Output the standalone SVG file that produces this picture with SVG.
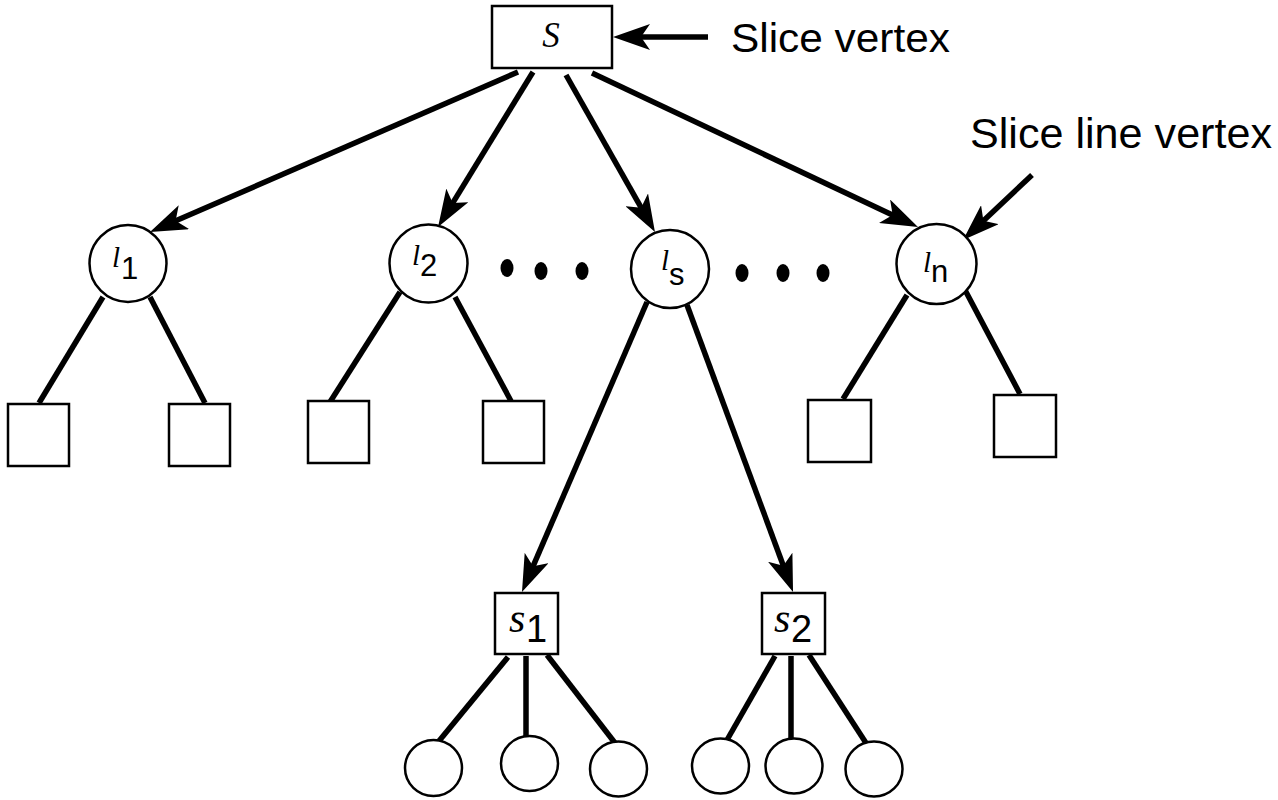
<svg xmlns="http://www.w3.org/2000/svg" width="1278" height="800" viewBox="0 0 1278 800">
<style>
.edge{stroke:#000;stroke-width:5.5;fill:none}
.arr{marker-end:url(#ah)}
.node{fill:#fff;stroke:#000;stroke-width:2.5}
.it{font-family:"Liberation Serif",serif;font-style:italic;fill:#000}
.sans{font-family:"Liberation Sans",Arial,sans-serif;fill:#000}
.dot{fill:#000}
</style>
<defs>
<marker id="ah" markerUnits="userSpaceOnUse" viewBox="0 0 37 26" markerWidth="37" markerHeight="26" refX="17" refY="13" orient="auto">
<path d="M0,0 L37,13 L0,26 L9,13 Z" fill="#000"/>
</marker>
</defs>
<rect width="1278" height="800" fill="#fff"/>
<g id="connectors">
<line class="edge arr" x1="518" y1="72" x2="168.3" y2="224"/>
<line class="edge arr" x1="533" y1="72" x2="448.5" y2="209.9"/>
<line class="edge arr" x1="566" y1="75" x2="645.1" y2="214.6"/>
<line class="edge arr" x1="592" y1="73" x2="899.9" y2="218.5"/>
<line class="edge arr" x1="647" y1="302" x2="529.9" y2="573.6"/>
<line class="edge arr" x1="687" y1="305" x2="786.1" y2="573.2"/>
<line class="edge arr" x1="708" y1="37" x2="633" y2="37"/>
<line class="edge arr" x1="1032" y1="175" x2="977.6" y2="226.3"/>
<line class="edge" x1="103" y1="297" x2="39" y2="403"/>
<line class="edge" x1="150" y1="297" x2="205" y2="403"/>
<line class="edge" x1="400" y1="292" x2="330" y2="402"/>
<line class="edge" x1="455" y1="297" x2="511" y2="401"/>
<line class="edge" x1="907" y1="295" x2="843" y2="399"/>
<line class="edge" x1="965" y1="290" x2="1020" y2="394"/>
<line class="edge" x1="508" y1="657" x2="439" y2="741"/>
<line class="edge" x1="526" y1="656" x2="526" y2="737"/>
<line class="edge" x1="547" y1="655" x2="615" y2="743"/>
<line class="edge" x1="775" y1="656" x2="727" y2="740"/>
<line class="edge" x1="791" y1="656" x2="791" y2="739"/>
<line class="edge" x1="809" y1="655" x2="866" y2="743"/>
</g>
<g id="slice-s">
<rect class="node" x="492" y="6" width="120" height="62"/>
<text class="it" x="551" y="47" font-size="35" text-anchor="middle">S</text>
</g>
<g id="label-slice-vertex">
<text class="sans" x="731" y="52" font-size="40" textLength="219" lengthAdjust="spacingAndGlyphs">Slice vertex</text>
</g>
<g id="label-slice-line-vertex">
<text class="sans" x="970" y="148" font-size="42" textLength="302" lengthAdjust="spacingAndGlyphs">Slice line vertex</text>
</g>
<g id="l1">
<circle class="node" cx="128" cy="263.5" r="38.5"/>
<text class="it" x="112" y="267" font-size="29">l</text><text class="sans" x="121" y="279" font-size="31">1</text>
</g>
<g id="l2">
<circle class="node" cx="428.5" cy="263.5" r="39"/>
<text class="it" x="412" y="265" font-size="29">l</text><text class="sans" x="420" y="276" font-size="31">2</text>
</g>
<g id="ls">
<circle class="node" cx="670" cy="269" r="39"/>
<text class="it" x="661" y="270" font-size="29">l</text><text class="sans" x="669" y="285" font-size="31">s</text>
</g>
<g id="ln">
<circle class="node" cx="936.5" cy="264" r="40"/>
<text class="it" x="923" y="272" font-size="29">l</text><text class="sans" x="931" y="282" font-size="31">n</text>
</g>
<g id="dots-left">
<ellipse class="dot" cx="507" cy="268" rx="6.5" ry="9"/>
<ellipse class="dot" cx="541" cy="271" rx="6.5" ry="9"/>
<ellipse class="dot" cx="582" cy="271" rx="6.5" ry="9"/>
</g>
<g id="dots-right">
<ellipse class="dot" cx="742" cy="273" rx="6.5" ry="9"/>
<ellipse class="dot" cx="783" cy="273" rx="6.5" ry="9"/>
<ellipse class="dot" cx="823" cy="273" rx="6.5" ry="9"/>
</g>
<g id="sq1"><rect class="node" x="8" y="404" width="61" height="62"/></g>
<g id="sq2"><rect class="node" x="169" y="404" width="61" height="62"/></g>
<g id="sq3"><rect class="node" x="308" y="401" width="61" height="62"/></g>
<g id="sq4"><rect class="node" x="483" y="401" width="61" height="62"/></g>
<g id="sq5"><rect class="node" x="808" y="400" width="63" height="62"/></g>
<g id="sq6"><rect class="node" x="994" y="395" width="62" height="62"/></g>
<g id="s1">
<rect class="node" x="495" y="593" width="63" height="61"/>
<text class="it" x="509" y="632" font-size="42">s</text><text class="sans" x="526" y="642" font-size="38">1</text>
</g>
<g id="s2">
<rect class="node" x="762" y="593" width="63" height="61"/>
<text class="it" x="774" y="632" font-size="42">s</text><text class="sans" x="791" y="642" font-size="38">2</text>
</g>
<g id="c1"><ellipse class="node" cx="433.5" cy="768" rx="28.5" ry="28"/></g>
<g id="c2"><ellipse class="node" cx="529.5" cy="763.5" rx="28.5" ry="27.5"/></g>
<g id="c3"><ellipse class="node" cx="618.5" cy="769" rx="28.5" ry="27.5"/></g>
<g id="c4"><ellipse class="node" cx="720.5" cy="766" rx="28.5" ry="27.5"/></g>
<g id="c5"><ellipse class="node" cx="794" cy="766" rx="28.5" ry="27.5"/></g>
<g id="c6"><ellipse class="node" cx="874" cy="769" rx="28.5" ry="27.5"/></g>
</svg>
